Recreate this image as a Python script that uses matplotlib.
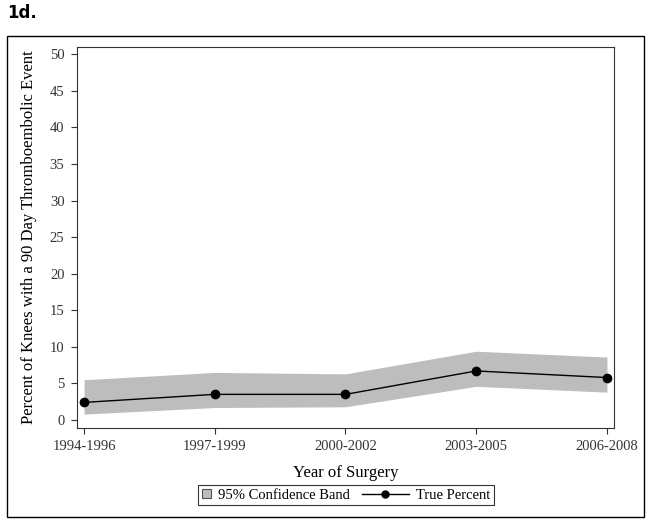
import matplotlib
matplotlib.use("Agg")
import matplotlib.pyplot as plt
from matplotlib.patches import Rectangle
from matplotlib.legend_handler import HandlerPatch

# Datos
periodos = ["1994-1996", "1997-1999", "2000-2002", "2003-2005", "2006-2008"]
pct = [2.4, 3.5, 3.5, 6.7, 5.8]
ic_inf = [0.8, 1.7, 1.8, 4.6, 3.8]
ic_sup = [5.5, 6.5, 6.3, 9.4, 8.6]

plt.rcParams['font.family'] = ['Liberation Serif', 'DejaVu Serif']

fig = plt.figure(figsize=(6.52, 5.23), dpi=100)
ax = fig.add_axes([77 / 652, 1 - 428 / 523, 537 / 652, 381 / 523])

x = list(range(len(periodos)))
ax.fill_between(x, ic_inf, ic_sup, color='#bdbdbd', linewidth=0)
linea, = ax.plot(x, pct, color='black', linewidth=1, marker='o', markersize=6,
                 label='True Percent')

ax.set_xlim(-0.054, 4.0 + 0.054)
ax.set_ylim(-1.1, 51.0)
ax.set_yticks(range(0, 51, 5))
ax.set_xticks(x)
ax.set_xticklabels(periodos)
ax.tick_params(labelsize=10.5, colors='#333333', length=4, width=0.8, pad=5)
for s in ax.spines.values():
    s.set_linewidth(0.8)
    s.set_color('#333333')

ax.set_xlabel("Year of Surgery", fontsize=12, labelpad=8)
ax.set_ylabel("Percent of Knees with a 90 Day Thromboembolic Event", fontsize=12, labelpad=9)


# cuadrado pequeño para la banda en la leyenda (caja del handle más estrecha)
class HandlerCuadrado(HandlerPatch):
    def legend_artist(self, legend, orig_handle, fontsize, handlebox):
        handlebox.width = handlebox.height * 0.9
        return super().legend_artist(legend, orig_handle, fontsize, handlebox)


def cuadrado(legend, orig_handle, xdescent, ydescent, width, height, fontsize):
    lado = height * 0.9
    return Rectangle((-xdescent, -ydescent + (height - lado) / 2), lado, lado)


banda = Rectangle((0, 0), 1, 1, facecolor='#bdbdbd', edgecolor='#555555',
                  linewidth=0.8, label='95% Confidence Band')

leg = fig.legend(handles=[banda, linea], loc='center', bbox_to_anchor=(346 / 652, 1 - 495 / 523),
                 ncol=2, frameon=True, fancybox=False, fontsize=10.5, handlelength=3.2,
                 borderpad=0.25, columnspacing=0.8, handletextpad=0.5,
                 handler_map={Rectangle: HandlerCuadrado(patch_func=cuadrado)})
leg.get_frame().set_edgecolor('black')
leg.get_frame().set_linewidth(0.8)
leg.legend_handles[1].set_markersize(5)

# Marco exterior
fig.patches.append(Rectangle((7 / 652, 1 - 517 / 523), 637 / 652, 481 / 523,
                             transform=fig.transFigure, fill=False,
                             edgecolor='black', linewidth=1))

fig.text(7 / 652, 1 - 13 / 523, "1d.", fontsize=12, fontweight='bold',
         family='DejaVu Sans', va='center', ha='left')

fig.savefig("out.png", dpi=100)
